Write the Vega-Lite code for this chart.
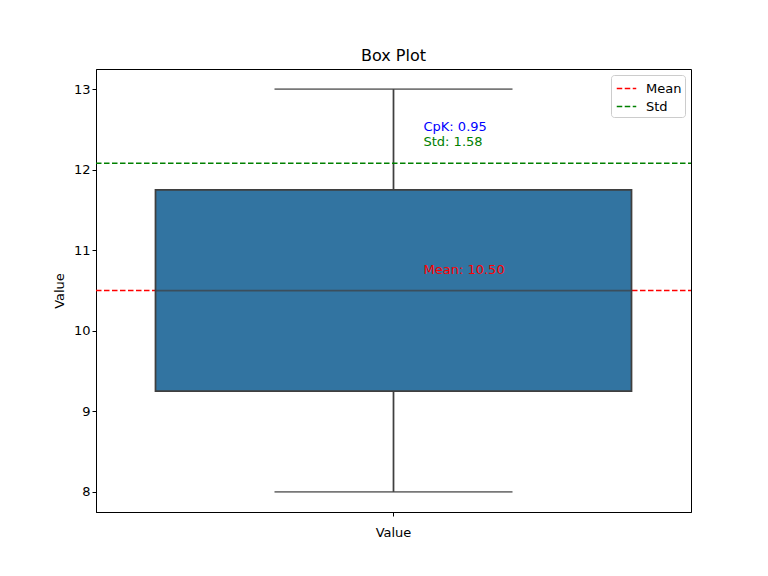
{
  "$schema": "https://vega.github.io/schema/vega-lite/v6.json",
  "width": 595,
  "height": 443,
  "autosize": {"type": "none"},
  "padding": {"left": 96, "top": 69, "right": 77, "bottom": 64},
  "background": "white",
  "title": {"text": "Box Plot", "font": "DejaVu Sans", "fontSize": 16, "fontWeight": "normal", "color": "black", "offset": 5},
  "config": {
    "view": {"stroke": "black", "strokeWidth": 1},
    "axis": {"grid": false, "domainColor": "black", "tickColor": "black", "labelColor": "black", "labelFont": "DejaVu Sans", "labelFontSize": 13, "titleFont": "DejaVu Sans", "titleFontSize": 13, "titleFontWeight": "normal", "titleColor": "black", "tickSize": 4}
  },
  "datasets": {
    "box": [{"cat": "Value", "q1": 9.25, "median": 10.5, "q3": 11.75, "min": 8, "max": 13}],
    "refs": [{"series": "Mean", "value": 10.5}, {"series": "Std", "value": 12.08}],
    "labels": [
      {"cat": "Value", "y": 12.53, "text": "CpK: 0.95", "kind": "cpk"},
      {"cat": "Value", "y": 12.34, "text": "Std: 1.58", "kind": "std"},
      {"cat": "Value", "y": 10.75, "text": "Mean: 10.50", "kind": "mean"}
    ]
  },
  "encoding": {
    "x": {"field": "cat", "type": "nominal", "scale": {"domain": ["Value"], "paddingInner": 0, "paddingOuter": 0}, "axis": {"title": null, "labelAngle": 0, "labelPadding": 10}}
  },
  "layer": [
    {
      "data": {"name": "box"},
      "mark": {"type": "rule", "color": "#3f3f3f", "strokeWidth": 1.75},
      "encoding": {
        "y": {"field": "min", "type": "quantitative", "scale": {"domain": [7.75, 13.25], "nice": false, "zero": false}, "axis": {"values": [8, 9, 10, 11, 12, 13], "format": "d", "title": "Value", "titlePadding": 7}},
        "y2": {"field": "q1"}
      }
    },
    {
      "data": {"name": "box"},
      "mark": {"type": "rule", "color": "#3f3f3f", "strokeWidth": 1.75},
      "encoding": {
        "y": {"field": "q3", "type": "quantitative"},
        "y2": {"field": "max"}
      }
    },
    {
      "data": {"name": "refs"},
      "mark": {"type": "rule", "strokeWidth": 1.5},
      "encoding": {
        "x": {"value": 0},
        "x2": {"value": 595},
        "y": {"field": "value", "type": "quantitative"},
        "color": {"field": "series", "type": "nominal", "scale": {"domain": ["Mean", "Std"], "range": ["#ff0000", "#008000"]},
          "legend": {"title": null, "orient": "top-right", "offset": 6, "symbolType": "stroke", "symbolStrokeWidth": 1.5, "symbolDash": [5.5, 2.5], "symbolSize": 380, "symbolOffset": 2, "labelFont": "DejaVu Sans", "labelFontSize": 13, "labelColor": "black", "labelOffset": 9, "fillColor": "white", "strokeColor": "#cccccc", "cornerRadius": 3, "padding": 3, "rowPadding": 0}},
        "strokeDash": {"field": "series", "type": "nominal", "scale": {"domain": ["Mean", "Std"], "range": [[5.5, 2.5], [5.5, 2.5]]}, "legend": null}
      }
    },
    {
      "data": {"name": "box"},
      "mark": {"type": "bar", "color": "#3274a1", "stroke": "#3f3f3f", "strokeWidth": 1.75, "width": {"band": 0.8}},
      "encoding": {
        "y": {"field": "q1", "type": "quantitative"},
        "y2": {"field": "q3"}
      }
    },
    {
      "data": {"name": "box"},
      "mark": {"type": "tick", "color": "#3f3f3f", "thickness": 1.75, "size": 476, "orient": "horizontal"},
      "encoding": {
        "y": {"field": "median", "type": "quantitative"}
      }
    },
    {
      "data": {"name": "box"},
      "mark": {"type": "tick", "color": "#3f3f3f", "thickness": 1.75, "size": 238, "orient": "horizontal"},
      "encoding": {
        "y": {"field": "min", "type": "quantitative"}
      }
    },
    {
      "data": {"name": "box"},
      "mark": {"type": "tick", "color": "#3f3f3f", "thickness": 1.75, "size": 238, "orient": "horizontal"},
      "encoding": {
        "y": {"field": "max", "type": "quantitative"}
      }
    },
    {
      "data": {"name": "labels"},
      "mark": {"type": "text", "align": "left", "baseline": "middle", "dx": 30, "font": "DejaVu Sans", "fontSize": 13},
      "encoding": {
        "y": {"field": "y", "type": "quantitative"},
        "text": {"field": "text"},
        "color": {"field": "kind", "type": "nominal", "scale": {"domain": ["cpk", "std", "mean"], "range": ["#0000ff", "#008000", "#ff0000"]}, "legend": null}
      }
    }
  ],
  "resolve": {"scale": {"color": "independent"}}
}
